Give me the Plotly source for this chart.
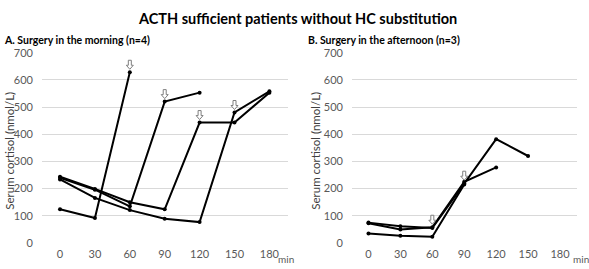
import plotly.graph_objects as go

W, H = 589, 269

minutes = [0, 30, 60, 90, 120, 150, 180]
tick_labels = ["0", "30", "60", "90", "120", "150", "180"]

# Panel A: surgery in the morning (n=4)
morning_1 = [124, 92, 628]
morning_2 = [240, 196, 135, 520, 553]
morning_3 = [244, 199, 150, 124, 443, 443, 553]
morning_4 = [234, 166, 121, 89, 77, 480, 558]
morning_arrow_idx = [2, 3, 4, 5]

# Panel B: surgery in the afternoon (n=3)
afternoon_1 = [75, 62, 55, 220, 382, 320]
afternoon_2 = [73, 50, 58, 225, 278]
afternoon_3 = [35, 27, 23, 215]
afternoon_arrow_idx = [3, 2, None]

FONT = "Lato"
fig = go.Figure()
shapes = []

# block-arrow outline in pixels, relative to the anchored data point
ARROW_PATH = "M 0,3 L 3.5,7 L 1.5,7 L 1.5,12 L -1.5,12 L -1.5,7 L -3.5,7 Z"

def add_series(vals, xa, ya, arrow_i):
    xs = minutes[:len(vals)]
    fig.add_trace(go.Scatter(x=xs, y=vals, mode="lines+markers",
                             line=dict(color="black", width=2),
                             marker=dict(color="black", size=4),
                             xaxis=xa, yaxis=ya, showlegend=False, hoverinfo="skip"))
    if arrow_i is not None:
        shapes.append(dict(type="path", xref=xa, yref=ya,
                           xsizemode="pixel", ysizemode="pixel",
                           xanchor=xs[arrow_i], yanchor=vals[arrow_i],
                           path=ARROW_PATH, fillcolor="white",
                           line=dict(color="#7f7f7f", width=1), layer="above"))

for s, a in zip([morning_1, morning_2, morning_3, morning_4], morning_arrow_idx):
    add_series(s, "x", "y", a)
for s, a in zip([afternoon_1, afternoon_2, afternoon_3], afternoon_arrow_idx):
    add_series(s, "x2", "y2", a)

ydom = [1 - 248 / H, 1 - 48 / H]
axis_common = dict(showline=False, zeroline=False, ticks="",
                   tickfont=dict(family=FONT, size=11, color="#595959"))
xax = dict(axis_common, range=[-15.5, 196], tickmode="array", tickvals=minutes,
           ticktext=tick_labels, showgrid=False, ticklabelstandoff=3)
yax = dict(axis_common, range=[0, 700], dtick=100, showgrid=True,
           gridcolor="#d9d9d9", gridwidth=1)

fig.update_layout(
    width=W, height=H, margin=dict(l=0, r=0, t=0, b=0),
    paper_bgcolor="white", plot_bgcolor="white",
    xaxis=dict(xax, domain=[42 / W, 288 / W], anchor="y"),
    yaxis=dict(yax, domain=ydom, anchor="x", ticklabelstandoff=8),
    xaxis2=dict(xax, domain=[352 / W, 577 / W], anchor="y2"),
    yaxis2=dict(yax, domain=ydom, anchor="x2", ticklabelstandoff=8),
    shapes=shapes,
)

ann = [
    dict(text="<b>ACTH sufficient patients without HC substitution</b>", x=297 / W, y=1 - 12 / H,
         font=dict(family=FONT, size=14.5, color="black")),
    dict(text="<b>A. Surgery in the morning (n=4)</b>", x=2 / W, y=1 - 35 / H, xanchor="left",
         font=dict(family=FONT, size=10.5, color="black")),
    dict(text="<b>B. Surgery in the afternoon (n=3)</b>", x=306 / W, y=1 - 35 / H, xanchor="left",
         font=dict(family=FONT, size=10.5, color="black")),
    dict(text="Serum cortisol (nmol/L)", x=10 / W, y=1 - 151 / H, textangle=-90,
         font=dict(family=FONT, size=11.5, color="#404040")),
    dict(text="Serum cortisol (nmol/L)", x=316 / W, y=1 - 151 / H, textangle=-90,
         font=dict(family=FONT, size=11.5, color="#404040")),
    dict(text="min", x=286 / W, y=1 - 265 / H, font=dict(family=FONT, size=10, color="#595959")),
    dict(text="min", x=581 / W, y=1 - 265 / H, font=dict(family=FONT, size=10, color="#595959")),
]
for a in ann:
    a.update(xref="paper", yref="paper", showarrow=False)
    a.setdefault("xanchor", "center")
    a.setdefault("yanchor", "middle")
fig.update_layout(annotations=ann)

fig.write_html("out.html", config={"displayModeBar": False},
               post_script="document.body.style.margin='0';document.body.style.overflow='hidden';")
